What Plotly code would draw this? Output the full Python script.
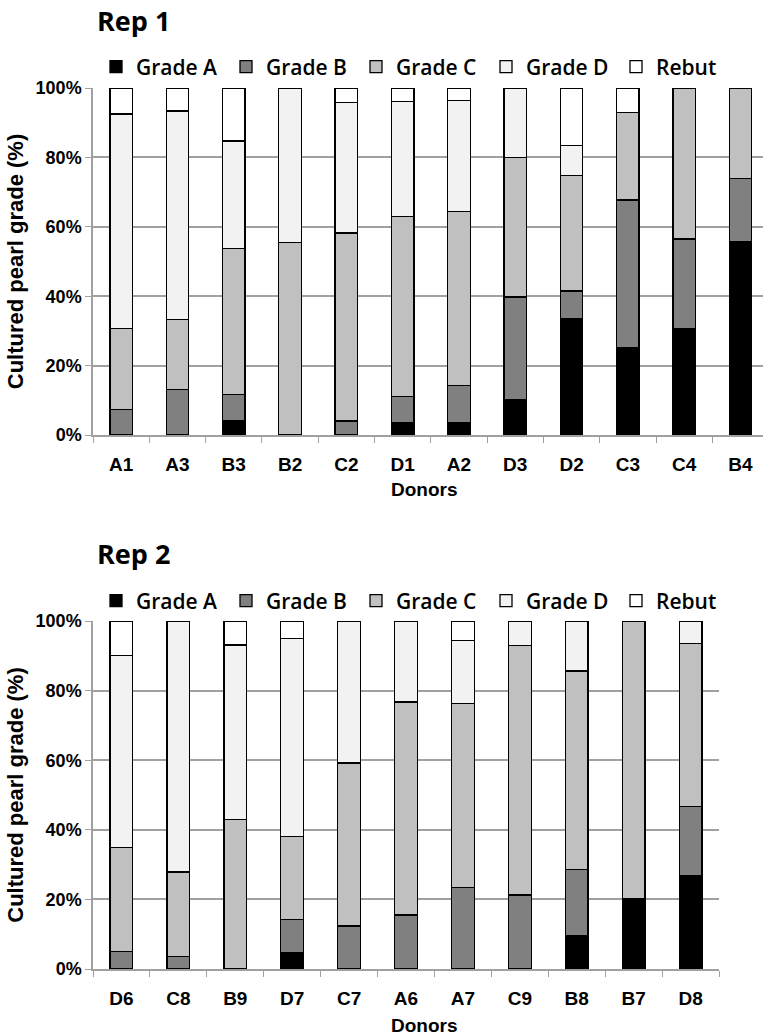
import plotly.graph_objects as go

# ---------------- data ----------------
rep1_donors = ["A1", "A3", "B3", "B2", "C2", "D1", "A2", "D3", "D2", "C3", "C4", "B4"]
rep1_grade_a = [0, 0, 4.0, 0, 0, 3.7, 3.7, 10.1, 33.5, 25.1, 30.6, 55.7]
rep1_grade_b = [7.4, 13.1, 7.6, 0, 4.0, 7.3, 10.6, 29.7, 8.0, 42.6, 25.9, 18.3]
rep1_grade_c = [23.2, 20.2, 42.2, 55.5, 54.2, 52.0, 50.1, 40.2, 33.3, 25.3, 43.5, 26.0]
rep1_grade_d = [61.9, 60.1, 30.9, 44.5, 37.7, 33.2, 32.0, 20.0, 8.6, 0, 0, 0]
rep1_rebut = [7.5, 6.6, 15.3, 0, 4.1, 3.8, 3.6, 0, 16.6, 7.0, 0, 0]

rep2_donors = ["D6", "C8", "B9", "D7", "C7", "A6", "A7", "C9", "B8", "B7", "D8"]
rep2_grade_a = [0, 0, 0, 4.6, 0, 0, 0, 0, 9.7, 20.2, 26.9]
rep2_grade_b = [5.1, 3.6, 0, 9.6, 12.4, 15.5, 23.4, 21.3, 18.8, 0, 19.8]
rep2_grade_c = [29.9, 24.3, 43.0, 23.8, 46.8, 61.2, 52.9, 71.7, 57.1, 79.8, 46.8]
rep2_grade_d = [55.1, 72.1, 50.1, 57.0, 40.8, 23.3, 18.0, 7.0, 14.4, 0, 6.5]
rep2_rebut = [9.9, 0, 6.9, 5.0, 0, 0, 5.7, 0, 0, 0, 0]

series_names = ["Grade A", "Grade B", "Grade C", "Grade D", "Rebut"]
series_colors = ["#000000", "#808080", "#c0c0c0", "#f2f2f2", "#ffffff"]
y_tick_vals = [0, 20, 40, 60, 80, 100]
y_tick_text = ["0%", "20%", "40%", "60%", "80%", "100%"]
panel_titles = ["Rep 1", "Rep 2"]
x_title = "Donors"
y_title = "Cultured pearl grade (%)"

YTICK_FONT = dict(family="Liberation Sans, Arial, sans-serif", size=18, color="#000000", weight="bold")
XTICK_FONT = dict(family="Liberation Sans, Arial, sans-serif", size=19, color="#000000", weight="bold")
YTITLE_FONT = dict(family="Liberation Sans, Arial, sans-serif", size=22, color="#000000", weight="bold")
LEG_FONT = dict(family="Open Sans, sans-serif", size=21, color="#000000", weight=600)
TITLE_FONT = dict(family="Open Sans, sans-serif", size=27, color="#000000", weight="bold")
GRID = "#a0a0a0"


def nz(vals):
    return [v if v else None for v in vals]


fig = go.Figure()

rep1 = [rep1_grade_a, rep1_grade_b, rep1_grade_c, rep1_grade_d, rep1_rebut]
rep2 = [rep2_grade_a, rep2_grade_b, rep2_grade_c, rep2_grade_d, rep2_rebut]

for name, col, vals in zip(series_names, series_colors, rep1):
    fig.add_trace(go.Bar(
        x=rep1_donors, y=nz(vals), name=name, xaxis="x", yaxis="y",
        marker=dict(color=col, line=dict(color="#000000", width=1.3)),
        width=0.4, legend="legend",
    ))
for name, col, vals in zip(series_names, series_colors, rep2):
    fig.add_trace(go.Bar(
        x=rep2_donors, y=nz(vals), name=name, xaxis="x2", yaxis="y2",
        marker=dict(color=col, line=dict(color="#000000", width=1.3)),
        width=0.4, legend="legend2",
    ))

W, H = 763, 1036
ML, MR, MT, MB = 93, 0, 88, 67
PW, PH = W - ML - MR, H - MT - MB


def py(pix):
    return (H - MB - pix) / PH


def px(pix):
    return (pix - ML) / PW


xcommon = dict(
    type="category", tickson="boundaries", ticks="outside", ticklen=6, tickcolor=GRID,
    tickwidth=1.3, showline=True, linecolor=GRID, linewidth=1.5, showgrid=False,
    tickfont=XTICK_FONT, ticklabelstandoff=11, automargin=False,
)
ycommon = dict(
    range=[0, 100], tickvals=y_tick_vals, ticktext=y_tick_text, ticks="outside", ticklen=6,
    tickcolor=GRID, tickwidth=1.3, showline=True, linecolor=GRID, linewidth=1.5,
    showgrid=True, gridcolor=GRID, gridwidth=1.5, zeroline=False, tickfont=YTICK_FONT,
    automargin=False,
    title=dict(text=y_title, font=YTITLE_FONT, standoff=6),
)

cat_px = 56.3
x2_end = px(719)
legend_common = dict(orientation="h", x=px(96), xanchor="left", yanchor="middle",
                     font=LEG_FONT, entrywidth=85, entrywidthmode="pixels",
                     bgcolor="rgba(0,0,0,0)", traceorder="normal")
fig.update_layout(
    template="none",
    width=W, height=H, margin=dict(l=ML, r=MR, t=MT, b=MB),
    plot_bgcolor="#ffffff", paper_bgcolor="#ffffff",
    barmode="stack", showlegend=True,
    xaxis=dict(xcommon, domain=[0, 1], range=[-0.5, -0.5 + PW / cat_px], anchor="y"),
    yaxis=dict(ycommon, domain=[py(435), 1.0], anchor="x"),
    xaxis2=dict(xcommon, domain=[0, x2_end], range=[-0.5, 10.5], anchor="y2"),
    yaxis2=dict(ycommon, domain=[0, py(621)], anchor="x2"),
    legend=dict(legend_common, y=py(67)),
    legend2=dict(legend_common, y=py(601)),
    annotations=[
        dict(text=panel_titles[0], xref="paper", yref="paper", x=px(95), y=py(21),
             xanchor="left", yanchor="middle", showarrow=False, font=TITLE_FONT),
        dict(text=panel_titles[1], xref="paper", yref="paper", x=px(95), y=py(553),
             xanchor="left", yanchor="middle", showarrow=False, font=TITLE_FONT),
        dict(text=x_title, xref="paper", yref="paper", x=px(424), y=py(489),
             xanchor="center", yanchor="middle", showarrow=False, font=XTICK_FONT),
        dict(text=x_title, xref="paper", yref="paper", x=px(424), y=py(1025),
             xanchor="center", yanchor="middle", showarrow=False, font=XTICK_FONT),
    ],
)

fig.write_html(
    "out.html",
    config={"displayModeBar": False},
    post_script="document.body.style.margin='0';document.body.style.padding='0';"
                "document.body.style.overflow='hidden';",
)
